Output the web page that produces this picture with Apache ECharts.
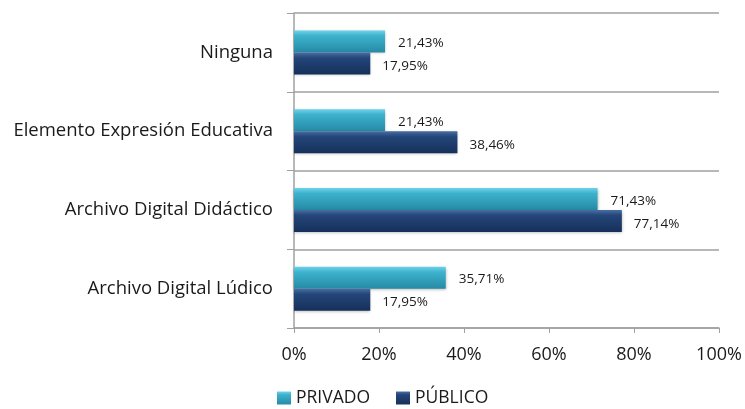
<!DOCTYPE html>
<html>
<head>
<meta charset="utf-8">
<script src="https://cdn.jsdelivr.net/npm/echarts@6/dist/echarts.min.js"></script>
<style>
  html, body { margin: 0; padding: 0; background: #fff; }
  #chart { width: 745px; height: 409px; }
</style>
</head>
<body>
<div id="chart"></div>
<script>
// Categories, bottom to top
var categories = ['Archivo Digital Lúdico', 'Archivo Digital Didáctico', 'Elemento Expresión Educativa', 'Ninguna'];
var privado = [35.71, 71.43, 21.43, 21.43];
var publico = [17.95, 77.14, 38.46, 17.95];
var xTicks = [0, 20, 40, 60, 80, 100];

var FONT = 'Open Sans';

function fmt(v) {
  return v.toFixed(2).replace('.', ',') + '%';
}

var myChart = echarts.init(document.getElementById('chart'));

myChart.setOption({
  animation: false,
  textStyle: { fontFamily: FONT },
  grid: {
    left: 294,
    right: 26,
    top: 13,
    bottom: 81,
    containLabel: false
  },
  legend: {
    data: ['PRIVADO', 'PÚBLICO'],
    bottom: -3,
    left: 272,
    itemWidth: 14,
    itemHeight: 13,
    itemGap: 26,
    icon: 'rect',
    textStyle: { fontSize: 17.5, color: '#1a1a1a', fontFamily: FONT }
  },
  xAxis: {
    type: 'value',
    min: xTicks[0],
    max: xTicks[xTicks.length - 1],
    interval: 20,
    axisLine: { show: true, lineStyle: { color: '#a0a0a0', width: 1.5 } },
    axisTick: { show: true, length: 5, lineStyle: { color: '#a0a0a0' } },
    splitLine: { show: false },
    axisLabel: {
      color: '#1a1a1a',
      fontSize: 18,
      margin: 18,
      formatter: function (v) { return v + '%'; }
    }
  },
  yAxis: {
    type: 'category',
    data: categories,
    axisLine: { show: true, lineStyle: { color: '#a0a0a0', width: 1.5 } },
    axisTick: { show: true, length: 7, lineStyle: { color: '#a0a0a0' } },
    splitLine: { show: true, lineStyle: { color: '#a0a0a0', width: 1.5 } },
    axisLabel: { color: '#1a1a1a', fontSize: 18.5, margin: 21 }
  },
  series: [
    {
      name: 'PRIVADO',
      type: 'bar',
      data: privado,
      barWidth: 22,
      barGap: '0%',
      itemStyle: {
        color: new echarts.graphic.LinearGradient(0, 0, 0, 1, [
          { offset: 0, color: '#6fd3ea' },
          { offset: 0.25, color: '#3db2cd' },
          { offset: 1, color: '#268aa6' }
        ]),
        shadowColor: 'rgba(0,0,0,0.3)',
        shadowBlur: 3,
        shadowOffsetY: 1
      },
      label: {
        show: true,
        position: 'right',
        distance: 13,
        offset: [0, 2],
        color: '#1a1a1a',
        fontSize: 13.5,
        fontWeight: 500,
        formatter: function (p) { return fmt(p.value); }
      }
    },
    {
      name: 'PÚBLICO',
      type: 'bar',
      data: publico,
      barWidth: 22,
      barGap: '0%',
      itemStyle: {
        color: new echarts.graphic.LinearGradient(0, 0, 0, 1, [
          { offset: 0, color: '#4a6fa3' },
          { offset: 0.25, color: '#24467a' },
          { offset: 1, color: '#16305a' }
        ]),
        shadowColor: 'rgba(0,0,0,0.3)',
        shadowBlur: 3,
        shadowOffsetY: 1
      },
      label: {
        show: true,
        position: 'right',
        distance: 12,
        offset: [0, 3],
        color: '#1a1a1a',
        fontSize: 13.5,
        fontWeight: 500,
        formatter: function (p) { return fmt(p.value); }
      }
    }
  ]
});
</script>
</body>
</html>
